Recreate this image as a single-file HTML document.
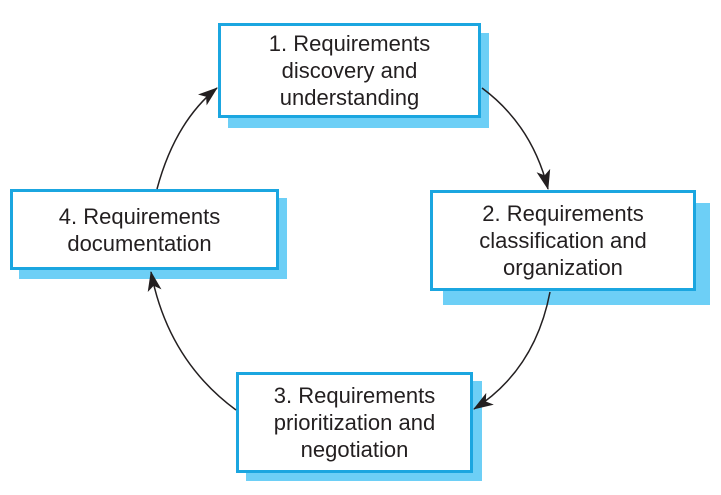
<!DOCTYPE html>
<html><head><style>
body{margin:0;background:#fff;width:721px;height:495px;position:relative;overflow:hidden;font-family:"Liberation Sans",sans-serif;}
.sh{position:absolute;background:#6dcff6;}
.b{position:absolute;background:#fff;border:3px solid #1ba6e0;box-sizing:border-box;display:flex;align-items:center;justify-content:center;text-align:center;color:#231f20;font-size:22px;line-height:27px;}
</style></head><body>
<div class="sh" style="left:228px;top:33px;width:261px;height:95px"></div>
<div class="b" style="left:218px;top:23px;width:263px;height:95px">1. Requirements<br>discovery and<br>understanding</div>
<div class="sh" style="left:443px;top:203px;width:267px;height:102px"></div>
<div class="b" style="left:430px;top:190px;width:266px;height:101px">2. Requirements<br>classification and<br>organization</div>
<div class="sh" style="left:246px;top:381px;width:236px;height:100px"></div>
<div class="b" style="left:236px;top:372px;width:237px;height:101px">3. Requirements<br>prioritization and<br>negotiation</div>
<div class="sh" style="left:19px;top:198px;width:268px;height:81px"></div>
<div class="b" style="left:10px;top:189px;width:269px;height:81px;padding-right:10px">4. Requirements<br>documentation</div>
<svg width="721" height="495" style="position:absolute;left:0;top:0">
<defs><marker id="a" markerWidth="20" markerHeight="14" refX="19" refY="7" orient="auto" markerUnits="userSpaceOnUse"><path d="M0,0 L20,7 L0,14 L5,7 Z" fill="#231f20"/></marker></defs>
<g fill="none" stroke="#231f20" stroke-width="1.5">
<path d="M482,88 Q532,125 548,189" marker-end="url(#a)"/>
<path d="M550,292 Q535,370 474,409" marker-end="url(#a)"/>
<path d="M236,410 Q168,360 151,272" marker-end="url(#a)"/>
<path d="M157,189 Q175,122 217,88" marker-end="url(#a)"/>
</g></svg>
</body></html>
